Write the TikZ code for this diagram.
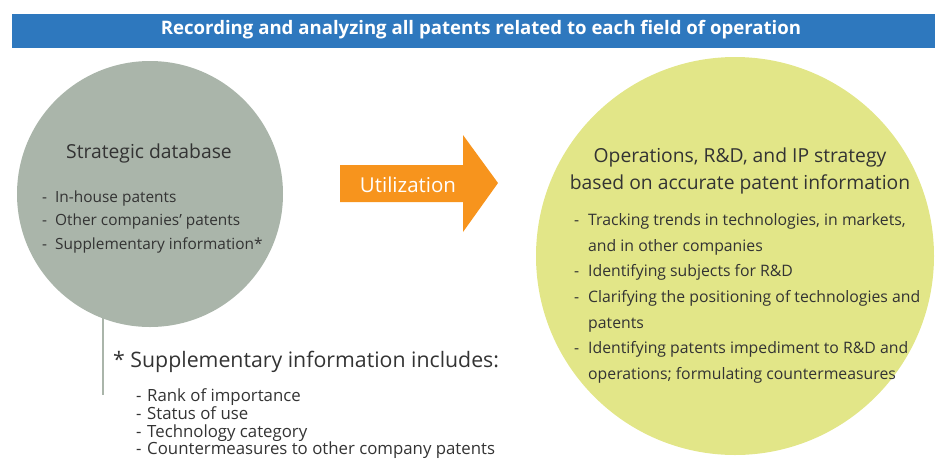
\documentclass[tikz,border=0pt]{standalone}
\usepackage{fontspec}
\setmainfont{Open Sans}
\definecolor{bannerblue}{HTML}{2E78BE}
\definecolor{dbgray}{HTML}{AAB5AA}
\definecolor{stratyellow}{HTML}{E2E688}
\definecolor{utilorange}{HTML}{F7941D}
\definecolor{txt}{HTML}{333333}
\tikzset{
  x=1pt,y=-1pt,
  itemtxt/.style={anchor=base west,inner sep=0pt,text=txt,font=\fontsize{15.4}{17}\selectfont},
  ritemtxt/.style={anchor=base west,inner sep=0pt,text=txt,font=\fontsize{15.8}{17}\selectfont},
  titletxt/.style={anchor=base,inner sep=0pt,text=txt,font=\fontsize{19.3}{21}\selectfont},
  subtxt/.style={anchor=base west,inner sep=0pt,text=txt,font=\fontsize{16.8}{18}\selectfont},
}
\begin{document}
\begin{tikzpicture}
\useasboundingbox (0,0) rectangle (935,459);
% banner
\fill[bannerblue] (12,14) rectangle (935,48);
\node[inner sep=0pt,text=white,font=\bfseries\fontsize{18.6}{20}\selectfont] (banner) at (481,30)
  {Recording and analyzing all patents related to each field of operation};
% left circle and line
\coordinate (lc) at (150,194);
\coordinate (lineend) at (103,395);
\draw[dbgray,line width=2.5pt] (103,300) -- (lineend);
\fill[dbgray] (lc) circle (133);
% right circle
\fill[stratyellow] (735,256) circle (199);
% arrow
\fill[utilorange] (340,165) -- (463,165) -- (463,135) -- (498,183) -- (463,232) -- (463,202) -- (340,202) -- cycle;
\node[inner sep=0pt,text=white,font=\fontsize{20.5}{22}\selectfont] (util) at (408,185) {Utilization};
% left texts
\node[titletxt] (dbtitle) at (149,158) {Strategic database};
\node[itemtxt] (d1) at (42,202) {-};
\node[itemtxt] (i1) at (55,202) {In-house patents};
\node[itemtxt] (d2) at (42,225) {-};
\node[itemtxt] (i2) at (55,225) {Other companies’ patents};
\node[itemtxt] (d3) at (42,249) {-};
\node[itemtxt] (i3) at (55,249) {Supplementary information*};
% right texts
\node[titletxt] (st1) at (740,162) {Operations, R\&D, and IP strategy};
\node[titletxt] (st2) at (740,189) {based on accurate patent information};
\node[ritemtxt] (r1d) at (574,225) {-};
\node[ritemtxt] (r1) at (588,225) {Tracking trends in technologies, in markets,};
\node[ritemtxt] (r1b) at (588,251) {and in other companies};
\node[ritemtxt] (r2d) at (574,276) {-};
\node[ritemtxt] (r2) at (588,276) {Identifying subjects for R\&D};
\node[ritemtxt] (r3d) at (574,302) {-};
\node[ritemtxt] (r3) at (588,302) {Clarifying the positioning of technologies and};
\node[ritemtxt] (r3b) at (588,328) {patents};
\node[ritemtxt] (r4d) at (574,353) {-};
\node[ritemtxt] (r4) at (588,353) {Identifying patents impediment to R\&D and};
\node[ritemtxt] (r4b) at (588,379) {operations; formulating countermeasures};
% bottom note
\node[anchor=base west,inner sep=0pt,text=txt,font=\fontsize{21.3}{23}\selectfont] (note) at (113,367) {* Supplementary information includes:};
\node[subtxt] (n1d) at (136,401) {-};
\node[subtxt] (n1) at (147,401) {Rank of importance};
\node[subtxt] (n2d) at (136,419) {-};
\node[subtxt] (n2) at (147,419) {Status of use};
\node[subtxt] (n3d) at (136,437) {-};
\node[subtxt] (n3) at (147,437) {Technology category};
\node[subtxt] (n4d) at (136,454) {-};
\node[subtxt] (n4) at (147,454) {Countermeasures to other company patents};
\end{tikzpicture}
\end{document}
